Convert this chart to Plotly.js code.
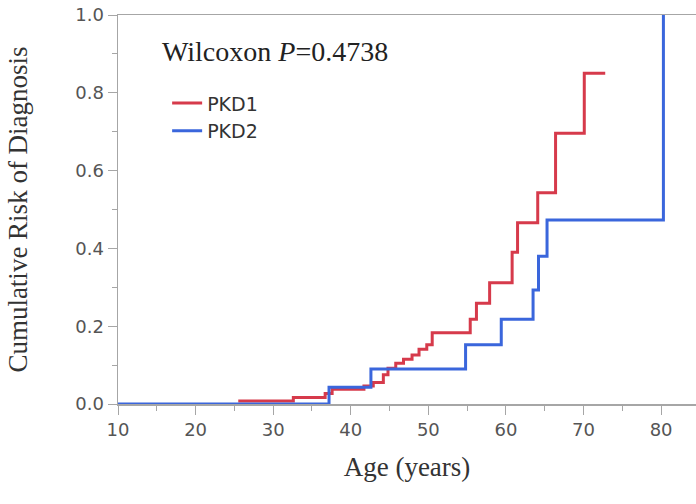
<!DOCTYPE html>
<html>
<head>
<meta charset="utf-8">
<script src="https://cdn.plot.ly/plotly-3.0.1.min.js"></script>
<style>html,body{margin:0;padding:0;background:#fff;}#chart{width:696px;height:504px;}</style>
</head>
<body>
<div id="chart"></div>
<script>
// PKD1 step curve (age at step, cumulative risk after step)
var pkd1Age = [25.5, 32.6, 36.7, 37.6, 41.7, 42.9, 44.2, 44.8, 45.8, 46.8, 47.9, 48.8, 49.8, 50.5, 55.4, 56.2, 57.9, 60.8, 61.5, 64.1, 66.4, 70.1, 72.8];
var pkd1Risk = [0.008, 0.017, 0.027, 0.038, 0.046, 0.055, 0.075, 0.092, 0.105, 0.115, 0.126, 0.141, 0.152, 0.183, 0.218, 0.259, 0.312, 0.390, 0.466, 0.543, 0.696, 0.850, 0.850];
// PKD2 step curve
var pkd2Age = [10, 37.2, 42.6, 54.8, 59.4, 63.5, 64.2, 65.3, 80.3];
var pkd2Risk = [0, 0.043, 0.090, 0.152, 0.218, 0.293, 0.380, 0.473, 1.0];
var seriesNames = ['PKD1', 'PKD2'];
var xTicks = [10, 20, 30, 40, 50, 60, 70, 80];
var yTicks = [0, 0.2, 0.4, 0.6, 0.8, 1.0];

var traces = [
  {x: pkd1Age, y: pkd1Risk, name: seriesNames[0], type: 'scatter', mode: 'lines',
   line: {shape: 'hv', color: '#d63a4b', width: 3}},
  {x: pkd2Age, y: pkd2Risk, name: seriesNames[1], type: 'scatter', mode: 'lines',
   line: {shape: 'hv', color: '#3a66dc', width: 3}}
];

var axisCommon = {
  showline: true, linecolor: '#a6a6a6', linewidth: 1.5,
  ticks: 'outside', ticklen: 9, tickcolor: '#a6a6a6', tickwidth: 1,
  showgrid: false, zeroline: false,
  tickfont: {family: 'DejaVu Sans', size: 18, color: '#555'}
};

var layout = {
  width: 696, height: 504,
  margin: {l: 118, r: 0, t: 15, b: 100},
  paper_bgcolor: '#fff', plot_bgcolor: '#fff',
  showlegend: true,
  legend: {x: 0.085, y: 0.822, xanchor: 'left', yanchor: 'top',
           font: {family: 'DejaVu Sans', size: 19, color: '#333'},
           bgcolor: 'rgba(0,0,0,0)', tracegroupgap: 0},
  xaxis: Object.assign({}, axisCommon, {
    range: [10, 84.5], tickvals: xTicks, mirror: true,
    minor: {ticks: 'outside', ticklen: 5, dtick: 5, tick0: 5, tickcolor: '#a6a6a6'},
    title: {text: 'Age (years)', standoff: 18,
            font: {family: 'Liberation Serif', size: 27, color: '#333'}}
  }),
  yaxis: Object.assign({}, axisCommon, {
    range: [0, 1.0], tickvals: yTicks, tickformat: '.1f',
    minor: {ticks: 'outside', ticklen: 5, dtick: 0.1, tick0: 0.1, tickcolor: '#a6a6a6'},
    title: {text: 'Cumulative Risk of Diagnosis', standoff: 40,
            font: {family: 'Liberation Serif', size: 27, color: '#333'}}
  }),
  annotations: [{
    xref: 'paper', yref: 'paper', x: 0.072, y: 0.905, xanchor: 'left', yanchor: 'middle',
    showarrow: false, text: 'Wilcoxon <i>P</i>=0.4738',
    font: {family: 'Liberation Serif', size: 28, color: '#222'}
  }]
};

Plotly.newPlot('chart', traces, layout, {displayModeBar: false, staticPlot: true});
</script>
</body>
</html>
